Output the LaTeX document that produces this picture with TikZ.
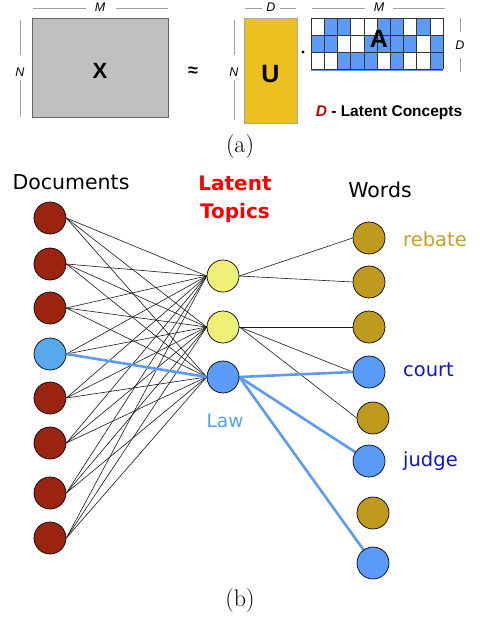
\documentclass[tikz,border=0pt]{standalone}
\usepackage{fontspec}
\newfontfamily\arialf{Liberation Sans}
\newfontfamily\dvs{DejaVu Sans}
\usetikzlibrary{backgrounds}
\definecolor{xgray}{RGB}{192,192,192}
\definecolor{ugold}{RGB}{235,192,32}
\definecolor{ablue}{RGB}{91,155,245}
\definecolor{dimgray}{RGB}{160,160,160}
\definecolor{docred}{RGB}{155,36,16}
\definecolor{docblue}{RGB}{88,168,236}
\definecolor{topyel}{RGB}{238,240,120}
\definecolor{wgold}{RGB}{190,154,30}
\definecolor{lawblue}{RGB}{91,155,248}
\definecolor{rebtxt}{RGB}{200,160,40}
\definecolor{wtxt}{RGB}{20,20,200}
\definecolor{lawtxt}{RGB}{80,162,240}
\definecolor{conred}{RGB}{200,0,0}
\begin{document}
\begin{tikzpicture}[x=1pt,y=-1pt,
  dimline/.style={draw=dimgray,line width=0.8pt},
  dimlab/.style={font=\arialf\itshape\fontsize{12.5}{14}\selectfont,inner sep=0},
  matlab/.style={font=\arialf\bfseries\fontsize{23}{26}\selectfont,inner sep=0},
  circ/.style={circle,draw=black,line width=0.7pt,minimum size=32pt,inner sep=0},
  docnode/.style={circ,fill=docred},
  topnode/.style={circ,fill=topyel},
  wordnode/.style={circ,fill=wgold},
  bluenode/.style={circ,fill=lawblue},
  thin edge/.style={draw=black!90,line width=0.6pt},
  thick edge/.style={draw=ablue,line width=2.6pt},
  btxt/.style={font=\dvs\fontsize{20.5}{24}\selectfont,inner sep=0},
  caplab/.style={font=\fontsize{24}{28}\selectfont,inner sep=0}
]
\useasboundingbox (0,0) rectangle (479,623);

% ---------- part (a) ----------
\node[draw=gray!80!black,fill=xgray,line width=0.6pt,minimum width=136pt,minimum height=99pt,inner sep=0] (Xm) at (100,67.5) {};
\node[matlab,font=\arialf\bfseries\fontsize{22}{26}\selectfont] (Xl) at (100,71) {X};
\draw[dimline] (33,8) -- (86,8) (116,8) -- (168,8);
\node[dimlab] (M1) at (100,7) {M};
\draw[dimline] (20,20) -- (20,55) (20,80) -- (20,117);
\node[dimlab] (N1) at (20,72) {N};
\node[font=\arialf\bfseries\fontsize{18}{20}\selectfont,inner sep=0] (approx) at (193,72) {≈};
\draw[dimline] (234,20) -- (234,55) (234,80) -- (234,120);
\node[dimlab] (N2) at (234,72) {N};

\node[draw=gray!70,fill=ugold,line width=0.5pt,minimum width=53pt,minimum height=105pt,inner sep=0] (Um) at (270.5,70.5) {};
\node[matlab,font=\arialf\bfseries\fontsize{25}{28}\selectfont] (Ul) at (270.5,74) {U};
\draw[dimline] (245,8) -- (262,8) (280,8) -- (296,8);
\node[dimlab] (D1) at (271,7) {D};
\fill (303,52) circle (1.6pt);

% A matrix
\foreach \r/\row in {0/{0,1,1,0,0,1,1,0,1,0},1/{1,1,0,0,1,1,1,1,0,1},2/{0,0,1,1,1,0,1,0,0,1}}{
  \foreach \v [count=\c from 0] in \row {
    \ifnum\v=1
      \fill[ablue] ({311+13.2*\c},{18+17*\r}) rectangle ({311+13.2*(\c+1)},{18+17*(\r+1)});
    \fi
  }
}
\fill[ablue] (311,69) rectangle (443,71.5);
\foreach \c in {0,...,10} \draw[black!80,line width=0.5pt] ({311+13.2*\c},18) -- ({311+13.2*\c},69);
\foreach \r in {0,...,3} \draw[black!80,line width=0.5pt] (311,{18+17*\r}) -- (443,{18+17*\r});
\node[matlab,font=\arialf\bfseries\fontsize{25}{28}\selectfont] (Al) at (379,39) {A};
\draw[dimline] (312,8) -- (365,8) (393,8) -- (445,8);
\node[dimlab] (M2) at (379,7) {M};
\draw[dimline] (460,18) -- (460,32) (460,58) -- (460,72);
\node[dimlab] (D2) at (460,45) {D};
\node[font=\arialf\bfseries\fontsize{15.5}{18}\selectfont,inner sep=0] (lc) at (389,113) {\textcolor{conred}{\itshape D} - Latent Concepts};

\node[caplab] (capa) at (240,147) {(a)};

% ---------- part (b) ----------
\node[btxt] (docs) at (71,182) {Documents};
\node[btxt,font=\dvs\bfseries\fontsize{20}{28}\selectfont,text=red,align=center] (topics) at (235,199) {Latent\\Topics};
\node[btxt] (words) at (380,190) {Words};

\foreach \i/\y in {1/218,2/264,3/308,5/398,6/443,7/493,8/538}
  \node[docnode] (d\i) at (50,\y) {};
\node[circ,fill=docblue] (d4) at (50,354) {};

\node[topnode] (t1) at (223,276) {};
\node[topnode] (t2) at (223,327) {};
\node[bluenode] (law) at (223,377) {};

\node[wordnode] (w1) at (369,238) {};
\node[wordnode] (w2) at (369,282) {};
\node[wordnode] (w3) at (369,327) {};
\node[bluenode] (w4) at (369,372) {};
\node[wordnode] (w5) at (373,418) {};
\node[bluenode] (w6) at (369,461) {};
\node[wordnode] (w7) at (373,513) {};
\node[bluenode] (w8) at (373,563) {};

\node[btxt,text=rebtxt,anchor=west,font=\dvs\fontsize{19.5}{24}\selectfont] (reb) at (403,239) {rebate};
\node[btxt,text=wtxt,anchor=west,font=\dvs\fontsize{19.5}{24}\selectfont] (court) at (403,370) {court};
\node[btxt,text=wtxt,anchor=west,font=\dvs\fontsize{19.5}{24}\selectfont] (judge) at (403,461) {judge};
\node[btxt,text=lawtxt,font=\dvs\fontsize{18.5}{22}\selectfont] (lawl) at (225,421) {Law};

\node[caplab] (capb) at (240,601) {(b)};

\begin{scope}[on background layer]
  \foreach \i in {1,2,3,5,6,7,8}
    \foreach \t in {t1,t2,law}
      \draw[thin edge] (d\i.east) -- (\t.west);
  \draw[thin edge] (d4.east) -- (t1.west);
  \draw[thin edge] (d4.east) -- (t2.west);
  \draw[thick edge] (d4.east) -- (law.west);
  \draw[thin edge] (t1.east) -- (w1.west);
  \draw[thin edge] (t1.east) -- (w2.west);
  \draw[thin edge] (t2.east) -- (w3.west);
  \draw[thin edge] (t2.east) -- (w4.west);
  \draw[thin edge] (t2.east) -- (w5.west);
  \draw[thick edge] (law.east) -- (w4.west);
  \draw[thick edge] (law.east) -- (w6);
  \draw[thick edge] (law.east) -- (w8);
\end{scope}
\end{tikzpicture}
\end{document}
